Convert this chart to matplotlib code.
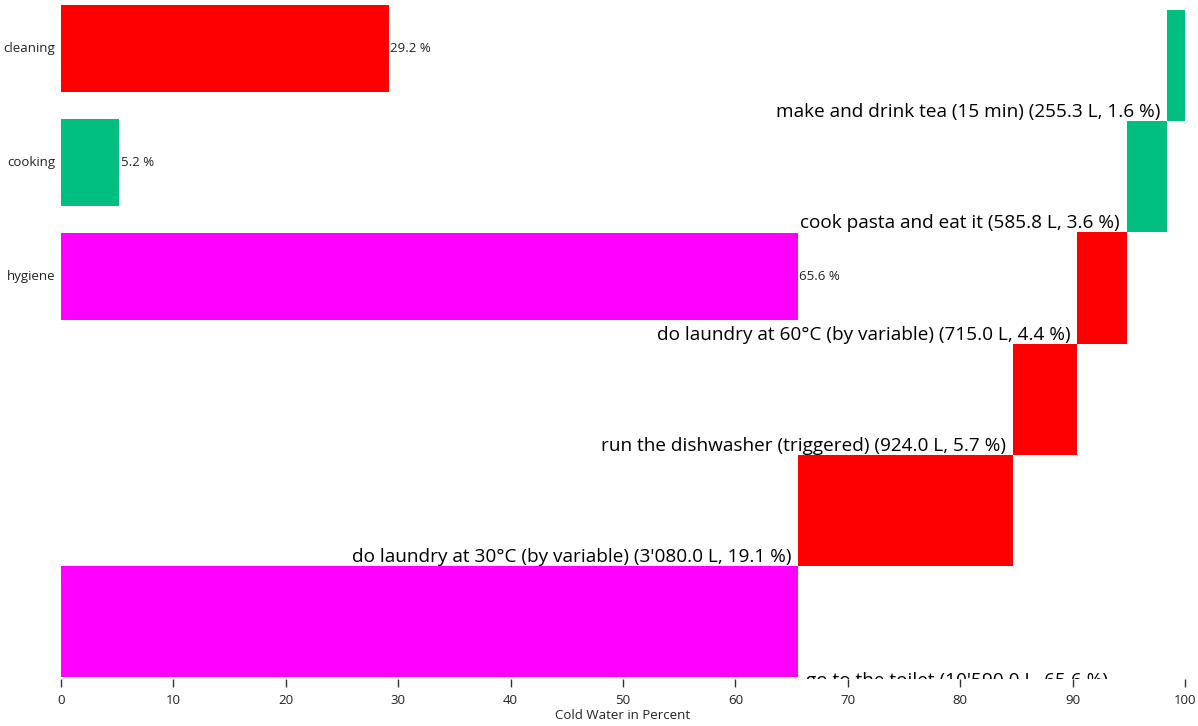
import numpy as np
import matplotlib.pyplot as plt

# share of cold water per category (percent)
categories = ['cleaning', 'cooking', 'hygiene']
category_share = [29.2, 5.2, 65.6]

# activities, top to bottom
activities = ['make and drink tea (15 min)', 'cook pasta and eat it',
              'do laundry at 60°C (by variable)', 'run the dishwasher (triggered)',
              'do laundry at 30°C (by variable)', 'go to the toilet']
activity_litres = [255.3, 585.8, 715.0, 924.0, 3080.0, 10590.0]
activity_share = [1.6, 3.6, 4.4, 5.7, 19.1, 65.6]
activity_category = ['cooking', 'cooking', 'cleaning', 'cleaning', 'cleaning', 'hygiene']

colors = {'cleaning': '#ff0000', 'cooking': '#00bf80', 'hygiene': '#ff00ff'}

plt.rcParams['font.family'] = ['Open Sans', 'DejaVu Sans']

W, H = 1198, 726
fig = plt.figure(figsize=(W / 100, H / 100), dpi=100)
ax = fig.add_axes([61 / W, 1 - 679 / H, (1185 - 61) / W, 679 / H])
ax.set_xlim(0, 100)
ax.set_ylim(679, 0)  # y in pixel rows

# category bars (upper left)
band, bar_h, top0 = 114, 87, 5
for i, (cat, val) in enumerate(zip(categories, category_share)):
    y0 = top0 + i * band
    ax.barh(y0 + bar_h / 2, val, height=bar_h, color=colors[cat])
    ax.text(-0.5, y0 + bar_h / 2, cat, ha='right', va='center', fontsize=9.5,
            color='#222222', clip_on=False)
    ax.text(val + 0.1, y0 + bar_h / 2, f'{val} %', ha='left', va='center',
            fontsize=9.5, color='#222222')

# cascading activity bars (from the right)
n = len(activities)
step = (677 - 10) / n
lefts = 100 - np.cumsum(activity_share)
for i in range(n):
    y0 = 10 + i * step
    left = lefts[i]
    share = activity_share[i]
    ax.barh(y0 + step / 2, share, left=left, height=step,
            color=colors[activity_category[i]])
    litres = f'{activity_litres[i]:,.1f}'.replace(',', "'")
    label = f'{activities[i]} ({litres} L, {share} %)'
    if left > 10:
        ax.text(left - 0.6, y0 + step, label, ha='right', va='bottom',
                fontsize=13.7, color='black')
    else:
        ax.text(left + share + 0.7, y0 + step - 5, label, ha='left', va='top',
                fontsize=13.7, color='black', clip_on=True)

for s in ax.spines.values():
    s.set_visible(False)
ax.set_yticks([])
ax.set_xticks(np.arange(0, 101, 10))
ax.tick_params(axis='x', length=6, width=1, color='#333333', labelsize=9.5,
               labelcolor='#222222', pad=5)
ax.set_xlabel('Cold Water in Percent', fontsize=9.5, color='#222222', labelpad=1)

fig.savefig('out.png', dpi=100)
